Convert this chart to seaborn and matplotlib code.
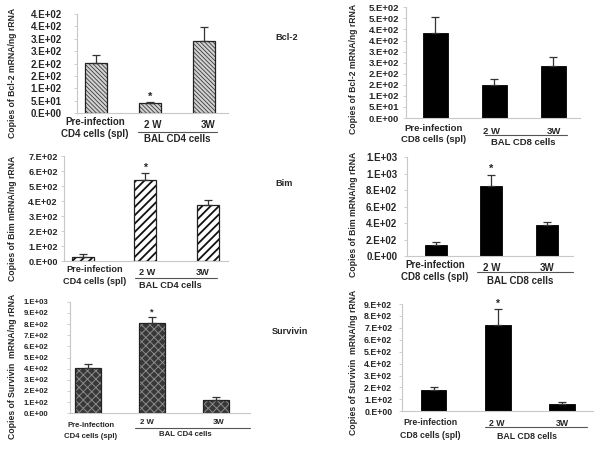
import numpy as np
import pandas as pd
import matplotlib
matplotlib.use("Agg")
import matplotlib.pyplot as plt
from matplotlib.ticker import MultipleLocator, FuncFormatter
from matplotlib.lines import Line2D
from matplotlib.patches import Rectangle
import seaborn as sns

# ---------------- data ----------------
categories = ["Pre-infection", "2 W", "3W"]

cd4_bcl2 = [202, 40, 292]
cd4_bcl2_err = [32, 4, 57]
cd8_bcl2 = [382, 148, 237]
cd8_bcl2_err = [73, 28, 40]

cd4_bim = [27, 540, 372]
cd4_bim_err = [19, 45, 35]
cd8_bim = [134, 851, 373]
cd8_bim_err = [32, 134, 40]

cd4_surv = [403, 806, 119]
cd4_surv_err = [38, 59, 24]
cd8_surv = [179, 724, 61]
cd8_surv_err = [27, 132, 20]

gene_labels = ["Bcl-2", "Bim", "Survivin"]
ylabels = ["Copies of Bcl-2 mRNA/ng rRNA", "Copies of Bim mRNA/ng rRNA",
           "Copies of Survivin  mRNA/ng rRNA"]

# ---------------- style ----------------
sns.set_style("white")
plt.rcParams["font.family"] = ["Liberation Sans", "DejaVu Sans"]
plt.rcParams["font.weight"] = "bold"

W, H = 600, 451
fig = plt.figure(figsize=(W / 100, H / 100), dpi=100)


def excel_fmt(v, pos=None):
    if v <= 0:
        return "0.E+00"
    e = int(np.floor(np.log10(v) + 1e-9))
    m = int(np.floor(v / 10 ** e + 0.5))
    if m == 10:
        m, e = 1, e + 1
    return f"{m}.E+{e:02d}"


def fx(x):
    return x / W


def fy(y):
    return 1 - y / H


def panel(box, xlim, width, values, errs, ymax, step, style, star, fs, pad, texts, cell):
    l, t, r, b = box
    ax = fig.add_axes([fx(l), fy(b), fx(r) - fx(l), (b - t) / H])
    df = pd.DataFrame({"cat": categories, "val": values})
    kw = dict(data=df, x="cat", y="val", ax=ax, width=width, errorbar=None)
    if style == "fine":
        with plt.rc_context({"hatch.linewidth": 0.6}):
            sns.barplot(**kw, color="white", edgecolor="#3a3a3a", linewidth=0)
            for p in ax.patches:
                p.set_hatch("\\" * 8)
                p.set_facecolor("#d2d2d2")
    elif style == "bold":
        with plt.rc_context({"hatch.linewidth": 1.3}):
            sns.barplot(**kw, color="white", edgecolor="#111111", linewidth=0)
            for p in ax.patches:
                p.set_hatch("////")
                p.set_facecolor("white")
    elif style == "check":
        with plt.rc_context({"hatch.linewidth": 0.7}):
            sns.barplot(**kw, color="#383838", edgecolor="#8a8a8a", linewidth=0)
            for p in ax.patches:
                p.set_hatch("xxxx")
                p.set_facecolor("#383838")
    else:
        sns.barplot(**kw, color="black", edgecolor="black", linewidth=0.6)
    if style != "solid":
        for p in list(ax.patches):
            ax.add_patch(Rectangle(p.get_xy(), p.get_width(), p.get_height(),
                                   fill=False, ec="#222222", lw=0.9, zorder=3))
    pos = np.arange(len(categories))
    ax.errorbar(pos, values, yerr=[np.zeros(len(errs)), errs], fmt="none",
                ecolor="#333333", elinewidth=0.9, capsize=3, capthick=0.9, zorder=4)
    if star:
        ax.annotate("*", (1, values[1] + errs[1]), xytext=(0, 0.5),
                    textcoords="offset points", ha="center", va="bottom",
                    fontsize=fs + 1, fontweight="bold")
    ax.set_xlim(*xlim)
    ax.set_ylim(0, ymax)
    ax.yaxis.set_major_locator(MultipleLocator(step))
    ax.yaxis.set_major_formatter(FuncFormatter(excel_fmt))
    ax.set_xticks([])
    ax.set_xlabel("")
    ax.set_ylabel("")
    for s in ["top", "right"]:
        ax.spines[s].set_visible(False)
    for s in ["left", "bottom"]:
        ax.spines[s].set_color("#c8c8c8")
        ax.spines[s].set_linewidth(0.8)
    ax.tick_params(axis="y", left=True, length=2.5, width=0.6, color="#c8c8c8",
                   pad=pad, labelsize=fs)
    for lab in ax.get_yticklabels():
        lab.set_fontweight("bold")
    ax.patch.set_alpha(0)
    # category / group texts
    (px, py1, py2), (wx2, wx3, wy), (lx0, lx1, ly), (bx, by) = texts
    grp = "CD4" if cell == 4 else "CD8"
    fig.text(fx(px), fy(py1), "Pre-infection", ha="center", va="center", fontsize=fs)
    fig.text(fx(px), fy(py2), f"{grp} cells (spl)", ha="center", va="center", fontsize=fs)
    fig.text(fx(wx2), fy(wy), categories[1], ha="center", va="center", fontsize=fs)
    fig.text(fx(wx3), fy(wy), categories[2], ha="center", va="center", fontsize=fs)
    fig.add_artist(Line2D([fx(lx0), fx(lx1)], [fy(ly), fy(ly)],
                          transform=fig.transFigure, color="#555555", lw=0.8))
    fig.text(fx(bx), fy(by), f"BAL {grp} cells", ha="center", va="center", fontsize=fs)
    return ax


# Row 1: Bcl-2
panel((77, 14, 228, 113), (-0.36, 2.44), 0.41, cd4_bcl2, cd4_bcl2_err, 400, 50,
      "fine", True, 7.0, 8.5,
      ((95, 122, 134), (153, 208, 125), (138, 217, 131.7), (177, 138.5)), 4)
panel((406, 7.3, 580, 118), (-0.5, 2.45), 0.42, cd8_bcl2, cd8_bcl2_err, 500, 50,
      "solid", False, 6.8, 2.5,
      ((434, 128.3, 139.3), (492, 554, 131), (485, 567, 135), (523, 142.7)), 8)

# Row 2: Bim
panel((64, 156, 228, 261.3), (-0.3, 2.32), 0.35, cd4_bim, cd4_bim_err, 700, 100,
      "bold", True, 6.6, 2.0,
      ((95, 270, 281), (147, 203, 272.7), (135, 217, 277.7), (170, 285)), 4)
panel((407, 157.3, 573, 256), (-0.52, 2.47), 0.40, cd8_bim, cd8_bim_err, 1200, 200,
      "solid", True, 7.0, 4.5,
      ((435, 265, 276.7), (492, 547, 267.7), (477, 573, 272), (520, 280.7)), 8)

# Row 3: Survivin
panel((70, 301.7, 250, 413.3), (-0.28, 2.53), 0.40, cd4_surv, cd4_surv_err, 1000, 100,
      "check", True, 5.6, 13,
      ((91, 425.7, 436), (147, 219, 422.7), (135, 250, 427.7), (185, 434.3)), 4)
panel((402, 304, 593, 411.3), (-0.49, 2.48), 0.40, cd8_surv, cd8_surv_err, 900, 100,
      "solid", True, 6.3, 4.5,
      ((430, 422.7, 435), (497, 562, 424), (485, 587, 426.7), (527, 436.7)), 8)

# y-axis labels (left and right columns) and gene labels
for yl, yc in zip(ylabels, [73, 218, 366]):
    fig.text(fx(13), fy(yc), yl, rotation=90, ha="center", va="center", fontsize=6.2)
    fig.text(fx(353), fy(yc - 4), yl, rotation=90, ha="center", va="center", fontsize=6.2)
for g, (gx, gy) in zip(gene_labels, [(287, 38), (284, 183), (290, 332)]):
    fig.text(fx(gx), fy(gy), g, ha="center", va="center", fontsize=6.6)

fig.savefig("out.png", dpi=100)
